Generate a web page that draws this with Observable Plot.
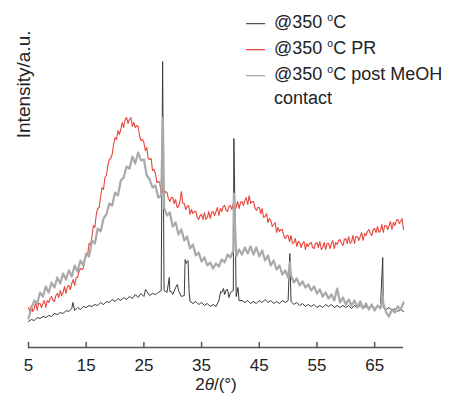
<!DOCTYPE html>
<html><head><meta charset="utf-8">
<script src="https://cdn.jsdelivr.net/npm/d3@7"></script>
<script src="https://cdn.jsdelivr.net/npm/@observablehq/plot@0.6"></script>
<style>
body{margin:0;background:#fff;font-family:"Liberation Sans",Arial,sans-serif;}
#wrap{position:relative;width:450px;height:395px;}
#legend{position:absolute;left:240px;top:0px;}
</style>
</head><body>
<div id="wrap"><div id="chart"></div><div id="legend"></div></div>
<script>
// ---- data ----
const seriesNames = ["@350 °C", "@350 °C PR", "@350 °C post MeOH contact"];
const seriesColors = ["#3a3a3a", "#e8453c", "#a9a9a9"];
const xTicks = [5, 15, 25, 35, 45, 55, 65];
const xLabel = "2θ/(°)";
const yLabel = "Intensity/a.u.";

// 2θ sampling grids (5° to 70°)
const angleGrid = d3.range(5, 70.001, 0.5);
const fineGrid = d3.range(5, 70.001, 0.25);

// red (PR) on the 0.25° grid
const redValues = [
  40,36,42,36, 39,45,37,44, 44,40,44,47, 40,47,45,49, 51,47,46,52,
  54,50,57,52, 55,61,54,61, 62,58,64,68, 62,70,70,76, 79,78,79,88,
  92,93,104,103, 111,122,120,133, 139,140,151,160, 158,170,172,182, 188,189,193,203,
  210,208,217,213, 218,225,220,228, 230,224,228,230, 221,225,220,222, 221,212,207,208,
  205,197,200,189, 188,189,177,178, 174,165,166,165, 153,158,153,156, 155,149,146,150,
  150,144,148,140, 141,146,156,144, 144,138,141,142, 133,138,134,136, 136,130,128,132,
  133,128,135,128, 130,136,129,135, 136,132,136,140, 132,139,136,141, 142,137,136,141,
  142,138,144,138, 140,146,139,145, 146,142,147,150, 143,152,144,146, 146,140,137,140,
  140,134,139,130, 131,134,125,129, 127,121,123,125, 115,120,116,118, 118,112,109,112,
  112,106,112,104, 105,109,101,106, 105,100,104,106, 98,104,101,104, 105,100,99,104,
  105,100,106,98, 100,105,98,104, 104,99,104,107, 99,105,103,107, 108,104,102,108,
  109,104,111,104, 106,112,104,111, 111,107,111,115, 107,114,112,116, 118,114,112,118,
  119,115,121,115, 117,123,115,122, 122,118,122,126, 118,125,122,127, 128,124,126,129,
  118
];

// gray (post MeOH contact) on the 0.5° grid, plus sharp peaks
const grayValues = [
  29,39,47,44,55,51,61,55,65,60,
  70,64,74,68,77,71,82,76,87,82,
  94,91,107,104,119,116,129,133,144,142,
  155,152,167,170,181,179,191,184,195,187,
  188,172,168,160,162,150,152,140,132,135,
  121,125,113,118,107,111,99,103,92,95,
  86,90,82,85,79,84,81,88,85,93,
  90,97,91,98,93,100,94,101,93,100,
  91,97,87,92,82,87,78,82,73,77,
  70,72,65,69,62,66,60,63,57,61,
  54,58,51,55,49,53,47,59,45,50,
  43,48,42,47,40,46,39,44,38,43,
  37,42,39,44,35,31,38,35,41,38,
  45
];
const grayPeakAngles = [28.3, 40.6, 50.3, 66.4];
const grayPeakValues = [230, 154, 85, 52];

// black (@350 °C) on the 0.5° grid, plus sharp peaks
const blackValues = [
  26,28,27,30,29,31,30,32,31,34,
  33,35,34,37,36,39,37,40,38,41,
  40,42,41,43,42,45,43,46,45,48,
  46,49,47,50,48,51,49,53,50,54,
  51,56,52,54,53,55,57,57,55,56,
  53,60,57,51,52,86,46,44,46,43,
  45,42,44,41,43,41,47,55,53,58,
  55,57,51,47,47,45,47,44,46,44,
  47,45,48,45,47,44,46,44,47,45,
  47,46,43,45,42,44,41,43,41,43,
  40,42,40,43,41,43,40,42,40,42,
  40,42,39,42,40,42,39,41,39,41,
  39,41,40,40,38,40,37,39,36,38,
  36
];
const blackPeakAngles = [12.7, 25.3, 28.25, 29.4, 29.75, 30.8, 32.15, 32.35, 32.65, 32.85, 38.3, 38.8, 39.3, 39.75, 40.6, 41.3, 50.3, 66.4];
const blackPeakValues = [45, 58, 286, 70, 56, 63, 88, 84, 87, 55, 56, 59, 58, 50, 209, 60, 94, 90];

// ---- build tables ----
function buildSeries(grid, values, extraX = [], extraY = []) {
  const pts = grid.map((x, i) => ({x, y: values[i]}));
  extraX.forEach((x, i) => pts.push({x, y: extraY[i]}));
  return pts.sort((a, b) => a.x - b.x);
}
const blackData = buildSeries(angleGrid, blackValues, blackPeakAngles, blackPeakValues);
const redData = buildSeries(fineGrid, redValues);
const grayData = buildSeries(angleGrid, grayValues, grayPeakAngles, grayPeakValues);

const tickShape = {draw(ctx, l) { ctx.moveTo(0, 0); ctx.lineTo(0, -l); }};

const chart = Plot.plot({
  width: 450, height: 395,
  marginLeft: 28, marginRight: 47, marginTop: 57, marginBottom: 48,
  x: {domain: [5, 70]},
  y: {domain: [0, 290], axis: null},
  style: {fontFamily: "Liberation Sans, Arial, sans-serif", fontSize: "17px", color: "#222", background: "white"},
  marks: [
    Plot.line(redData, {x: "x", y: "y", stroke: seriesColors[1], strokeWidth: 1.1}),
    Plot.line(blackData, {x: "x", y: "y", stroke: seriesColors[0], strokeWidth: 1}),
    Plot.line(grayData, {x: "x", y: "y", stroke: seriesColors[2], strokeWidth: 2.2}),
    Plot.ruleY([0], {stroke: "#555", strokeWidth: 1.5}),
    Plot.vector(xTicks, {x: d => d, frameAnchor: "bottom", length: 5, anchor: "start", stroke: "#555", strokeWidth: 1.5, shape: tickShape}),
    Plot.axisX({ticks: xTicks, tickSize: 0, tickPadding: 11, label: null, fontSize: 17}),
    Plot.text([xLabel], {frameAnchor: "bottom", dy: 42, lineAnchor: "bottom", fontSize: 17, fill: "#222"}),
    Plot.text([yLabel], {frameAnchor: "top-left", rotate: -90, textAnchor: "end", lineAnchor: "bottom", dx: 1, dy: -27, fontSize: 19, fill: "#222"})
  ]
});
document.getElementById("chart").appendChild(chart);

// italic theta in x label
chart.querySelectorAll("text").forEach(t => {
  if (t.textContent === xLabel) {
    t.innerHTML = '2<tspan font-style="italic">θ</tspan>/(°)';
  }
});

// legend (small SVG overlaid at the top right); swatches drawn as em dashes
const swatchColors = ["#555", "#e8453c", "#a9a9a9"];
const legendSuffix = ["", " PR", " post MeOH"];
const rowStep = 26;
const lsvg = d3.select("#legend").append("svg")
  .attr("width", 210).attr("height", 112)
  .style("font-family", "Liberation Sans, Arial, sans-serif")
  .style("font-size", "18px");
seriesNames.forEach((name, i) => {
  const g = lsvg.append("g").attr("transform", `translate(0,${28 + i * rowStep})`).attr("aria-label", name);
  g.append("text").attr("x", 6).attr("y", 0).attr("font-size", 19)
    .attr("fill", swatchColors[i]).text("\u2014");
  const t = g.append("text").attr("x", 34).attr("y", 0).attr("fill", "#222");
  t.append("tspan").text("@350 ");
  t.append("tspan").attr("font-size", 10.5).attr("dy", -7).text("o");
  t.append("tspan").attr("dy", 7).text("C" + legendSuffix[i]);
  if (i === 2) {
    g.append("text").attr("x", 34).attr("y", 24).attr("fill", "#222").text("contact");
  }
});
</script>
</body></html>
